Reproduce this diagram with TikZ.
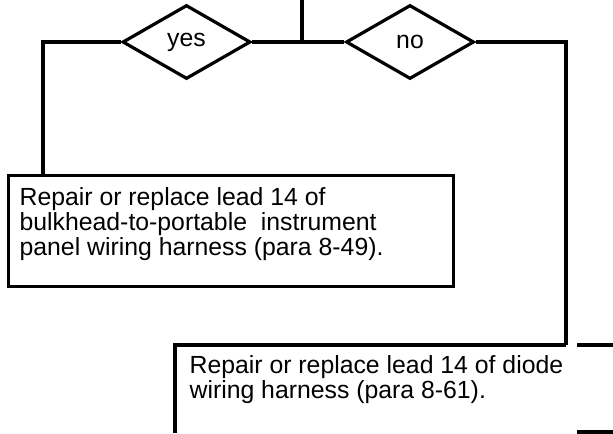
\documentclass[tikz,border=0pt]{standalone}
\usepackage{fontspec}
\setmainfont{Liberation Sans}
\usetikzlibrary{shapes.geometric}

\begin{document}
\begin{tikzpicture}[
  x=0.5pt, y=-0.5pt, line width=1.6pt,
  font=\fontsize{12.4pt}{10.6pt}\selectfont,
  dec/.style={draw, diamond, inner sep=0pt, minimum width=64pt, minimum height=37pt},
  fixbox/.style={draw, inner sep=0pt, minimum width=222.5pt, minimum height=55.5pt, anchor=north west},
  fixtxt/.style={inner sep=0pt, align=left, anchor=north west}
]
\useasboundingbox (0,0) rectangle (613,433);
\coordinate (top) at (302,0);
\node[dec] (yes) at (186.5,42) {yes};
\node[dec] (no) at (410,42) {no};
% left result
\node[fixbox] (fix1) at (7,174) {};
\node[fixtxt] (fix1txt) at (18,186)
  {Repair or replace lead 14 of\\
   bulkhead-to-portable\ \ instrument\\
   panel wiring harness (para 8-49).};
\coordinate (fix1in) at (43,174);
% bottom result, only partly on the sheet
\node[fixtxt] (fix2txt) at (188,354)
  {Repair or replace lead 14 of diode\\
   wiring harness (para 8-61).};
\coordinate (fix2in) at (566,345);
\draw (175,433) -- (175,345) -- (fix2in);
\draw (577,345) -- (613,345);
\draw (577,432) -- (613,432);
% connectors
\draw (top) -- (top |- yes.east);
\draw (yes.east) -- (no.west);
\draw (yes.west) -| (fix1in);
\draw (no.east) -| (fix2in);
\end{tikzpicture}
\end{document}
